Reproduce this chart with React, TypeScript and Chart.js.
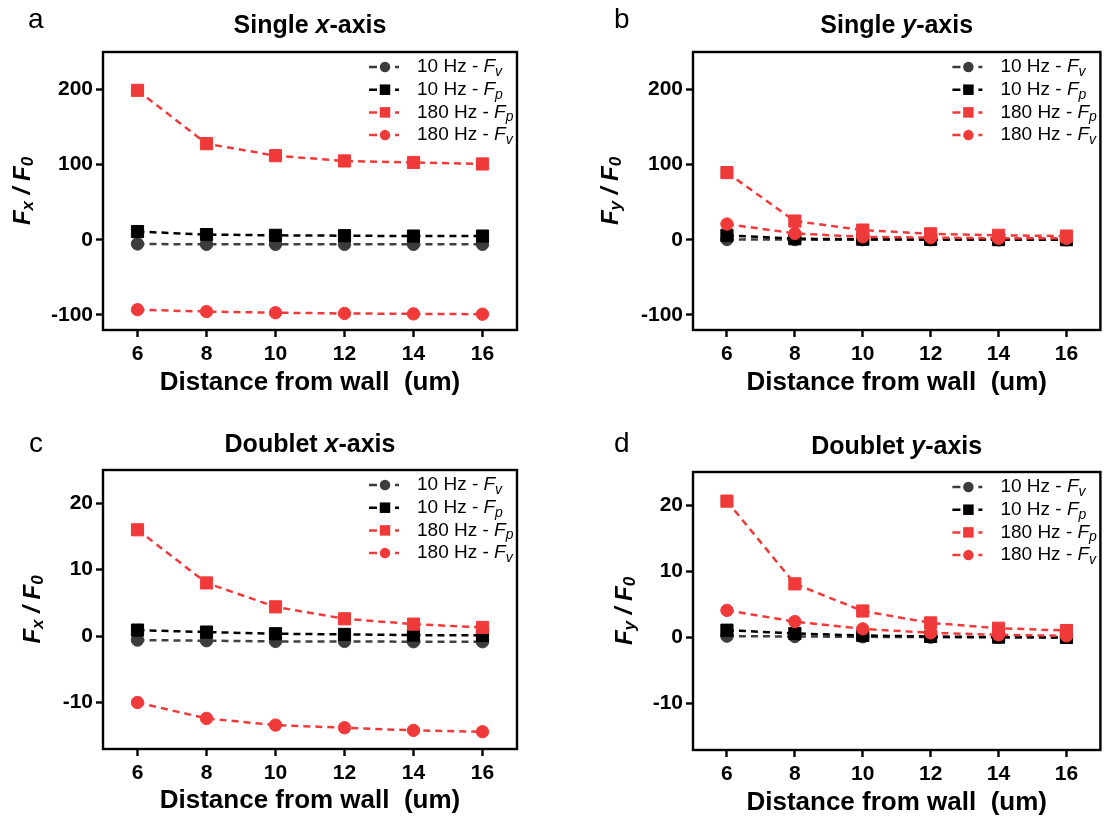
import React, { useEffect, useRef } from 'react';
import { Chart, registerables } from 'chart.js';

Chart.register(...registerables);

// ---------------- data ----------------
const distances = [6, 8, 10, 12, 14, 16];
const xTickValues = [6, 8, 10, 12, 14, 16];
const singleTickValues = [-100, 0, 100, 200];
const doubletTickValues = [-10, 0, 10, 20];

const seriesPrefixes = ['10 Hz - ', '10 Hz - ', '180 Hz - ', '180 Hz - '];
const seriesSubscripts = ['v', 'p', 'p', 'v'];

// Single x-axis
const singleX_10Hz_Fv = [-5.5, -6, -6, -6, -6, -6];
const singleX_10Hz_Fp = [11, 7, 6, 5.5, 5, 5];
const singleX_180Hz_Fp = [199, 128, 112, 105, 103, 101];
const singleX_180Hz_Fv = [-93, -95.5, -97, -98, -98.5, -99];

// Single y-axis
const singleY_10Hz_Fv = [0.5, 0.3, 0.2, 0.1, 0.1, 0];
const singleY_10Hz_Fp = [6, 1.5, 0.8, 0.5, 0.3, 0.2];
const singleY_180Hz_Fp = [89.5, 25, 13, 8, 6, 5];
const singleY_180Hz_Fv = [21, 8.5, 4, 3, 2, 2];

// Doublet x-axis
const doubletX_10Hz_Fv = [-0.6, -0.7, -0.8, -0.8, -0.85, -0.85];
const doubletX_10Hz_Fp = [0.9, 0.6, 0.35, 0.25, 0.15, 0.1];
const doubletX_180Hz_Fp = [16.0, 8.0, 4.4, 2.6, 1.8, 1.3];
const doubletX_180Hz_Fv = [-10.0, -12.4, -13.4, -13.8, -14.2, -14.4];

// Doublet y-axis
const doubletY_10Hz_Fv = [0.2, 0.15, 0.1, 0.05, 0.05, 0];
const doubletY_10Hz_Fp = [1.1, 0.6, 0.3, 0.15, 0.05, 0];
const doubletY_180Hz_Fp = [20.6, 8.1, 4.0, 2.2, 1.4, 1.05];
const doubletY_180Hz_Fv = [4.1, 2.4, 1.3, 0.7, 0.4, 0.25];

// ---------------- styles ----------------
const FONT = "'Liberation Sans', Arial, Helvetica, sans-serif";
const RED = '#F03A3A';
const DARK = '#3c3c3c';
const BLACK = '#000000';
const seriesColors = [DARK, BLACK, RED, RED];
const seriesShapes = ['circle', 'rect', 'rect', 'circle'];
const seriesOrder = [4, 3, 2, 1];

const CANVAS_W = 555;
const CANVAS_H = 410;

type Seg = { text: string; font: string; dy?: number };

function drawRich(ctx: CanvasRenderingContext2D, segs: Seg[], x: number, y: number, align: 'left' | 'center') {
  let total = 0;
  const widths: number[] = [];
  for (const s of segs) {
    ctx.font = s.font;
    const w = ctx.measureText(s.text).width;
    widths.push(w);
    total += w;
  }
  let cx = align === 'center' ? x - total / 2 : x;
  ctx.textAlign = 'left';
  segs.forEach((s, i) => {
    ctx.font = s.font;
    ctx.fillText(s.text, cx, y + (s.dy || 0));
    cx += widths[i];
  });
}

function drawMarker(ctx: CanvasRenderingContext2D, shape: string, x: number, y: number, size: number, color: string) {
  ctx.fillStyle = color;
  if (shape === 'circle') {
    ctx.beginPath();
    ctx.arc(x, y, size / 2, 0, Math.PI * 2);
    ctx.fill();
  } else {
    ctx.fillRect(x - size / 2, y - size / 2, size, size);
  }
}

const decorPlugin = {
  id: 'decor',
  afterDraw(chart: any, _args: any, opts: any) {
    const ctx: CanvasRenderingContext2D = chart.ctx;
    const ca = chart.chartArea;
    ctx.save();
    // frame
    ctx.setLineDash([]);
    ctx.strokeStyle = '#000';
    ctx.lineWidth = 2.4;
    ctx.strokeRect(ca.left, ca.top, ca.right - ca.left, ca.bottom - ca.top);

    ctx.fillStyle = '#000';
    ctx.textBaseline = 'alphabetic';
    // panel letter
    ctx.font = `28px ${FONT}`;
    ctx.textAlign = 'left';
    ctx.fillText(opts.letter, opts.letterX, opts.letterY);

    const cx = (ca.left + ca.right) / 2;
    // title
    drawRich(
      ctx,
      [
        { text: opts.titleA, font: `bold 25px ${FONT}` },
        { text: opts.titleAxis, font: `italic bold 25px ${FONT}` },
        { text: '-axis', font: `bold 25px ${FONT}` },
      ],
      cx,
      opts.titleY,
      'center'
    );

    // x axis title
    ctx.fillStyle = '#000';
    drawRich(ctx, [{ text: 'Distance from wall  (um)', font: `bold 26px ${FONT}` }], cx, opts.xTitleY, 'center');

    // y axis title (rotated)
    ctx.save();
    ctx.translate(opts.yTitleX, (ca.top + ca.bottom) / 2);
    ctx.rotate(-Math.PI / 2);
    ctx.textBaseline = 'middle';
    drawRich(
      ctx,
      [
        { text: 'F', font: `italic bold 24px ${FONT}` },
        { text: opts.titleAxis, font: `italic bold 17px ${FONT}`, dy: 5 },
        { text: ' / ', font: `italic bold 24px ${FONT}` },
        { text: 'F', font: `italic bold 24px ${FONT}` },
        { text: '0', font: `italic bold 17px ${FONT}`, dy: 5 },
      ],
      0,
      0,
      'center'
    );
    ctx.restore();

    // legend
    const mx = ca.right - 132;
    for (let i = 0; i < 4; i++) {
      const y = ca.top + 15 + i * 22.7;
      const color = seriesColors[i];
      ctx.strokeStyle = color;
      ctx.lineWidth = 2.5;
      ctx.setLineDash([]);
      ctx.beginPath();
      ctx.moveTo(mx - 16, y);
      ctx.lineTo(mx - 8, y);
      ctx.moveTo(mx + 10, y);
      ctx.lineTo(mx + 14, y);
      ctx.stroke();
      drawMarker(ctx, seriesShapes[i], mx, y, 10.5, color);
      ctx.fillStyle = '#000';
      ctx.textBaseline = 'middle';
      drawRich(
        ctx,
        [
          { text: seriesPrefixes[i], font: `19px ${FONT}` },
          { text: 'F', font: `italic 19px ${FONT}` },
          { text: seriesSubscripts[i], font: `italic 14px ${FONT}`, dy: 5 },
        ],
        mx + 32,
        y,
        'left'
      );
    }
    ctx.restore();
  },
};

type PanelDef = {
  letter: string;
  titleA: string;
  titleAxis: string;
  series: number[][];
  yTicks: number[];
  yMin: number;
  yMax: number;
  left: number;
  top: number;
  area: { left: number; top: number; right: number; bottom: number };
  letterX: number;
  letterY: number;
  titleY: number;
  xTitleY: number;
  yTitleX: number;
};

const panels: PanelDef[] = [
  {
    letter: 'a', titleA: 'Single ', titleAxis: 'x',
    series: [singleX_10Hz_Fv, singleX_10Hz_Fp, singleX_180Hz_Fp, singleX_180Hz_Fv],
    yTicks: singleTickValues, yMin: -120, yMax: 250,
    left: 0, top: 0,
    area: { left: 103, top: 52, right: 517, bottom: 330 },
    letterX: 28, letterY: 28, titleY: 33, xTitleY: 390, yTitleX: 23,
  },
  {
    letter: 'b', titleA: 'Single ', titleAxis: 'y',
    series: [singleY_10Hz_Fv, singleY_10Hz_Fp, singleY_180Hz_Fp, singleY_180Hz_Fv],
    yTicks: singleTickValues, yMin: -120, yMax: 250,
    left: 555, top: 0,
    area: { left: 138, top: 52, right: 551, bottom: 330 },
    letterX: 59, letterY: 28, titleY: 33, xTitleY: 390, yTitleX: 56,
  },
  {
    letter: 'c', titleA: 'Doublet ', titleAxis: 'x',
    series: [doubletX_10Hz_Fv, doubletX_10Hz_Fp, doubletX_180Hz_Fp, doubletX_180Hz_Fv],
    yTicks: doubletTickValues, yMin: -17, yMax: 25,
    left: 0, top: 410,
    area: { left: 103, top: 60, right: 517, bottom: 339 },
    letterX: 29, letterY: 42, titleY: 42, xTitleY: 398, yTitleX: 33,
  },
  {
    letter: 'd', titleA: 'Doublet ', titleAxis: 'y',
    series: [doubletY_10Hz_Fv, doubletY_10Hz_Fp, doubletY_180Hz_Fp, doubletY_180Hz_Fv],
    yTicks: doubletTickValues, yMin: -17, yMax: 25,
    left: 555, top: 410,
    area: { left: 138, top: 62, right: 551, bottom: 340 },
    letterX: 59, letterY: 42, titleY: 44, xTitleY: 400, yTitleX: 70,
  },
];

function Panel({ def }: { def: PanelDef }) {
  const ref = useRef<HTMLCanvasElement | null>(null);
  useEffect(() => {
    if (!ref.current) return;
    const a = def.area;
    const datasets = def.series.map((vals, i) => ({
      label: seriesPrefixes[i] + 'F' + seriesSubscripts[i],
      data: distances.map((d, j) => ({ x: d, y: vals[j] })),
      borderColor: seriesColors[i] === DARK ? '#404040' : seriesColors[i],
      backgroundColor: seriesColors[i],
      pointBackgroundColor: seriesColors[i],
      pointBorderColor: seriesColors[i],
      pointBorderWidth: 1,
      pointStyle: seriesShapes[i],
      pointRadius: seriesShapes[i] === 'rect' ? 8.6 : 6.2,
      borderWidth: 2.5,
      borderDash: [7, 5],
      tension: 0,
      fill: false,
      order: seriesOrder[i],
    }));
    const chart = new Chart(ref.current, {
      type: 'line',
      data: { datasets },
      plugins: [decorPlugin],
      options: {
        responsive: false,
        animation: false,
        devicePixelRatio: 1,
        layout: {
          padding: { left: 0, top: a.top, right: CANVAS_W - a.right, bottom: 0 },
        },
        plugins: {
          legend: { display: false },
          tooltip: { enabled: false },
          title: { display: false },
          decor: {
            letter: def.letter,
            titleA: def.titleA,
            titleAxis: def.titleAxis,
            letterX: def.letterX,
            letterY: def.letterY,
            titleY: def.titleY,
            xTitleY: def.xTitleY,
            yTitleX: def.yTitleX,
          },
        } as any,
        scales: {
          x: {
            type: 'linear',
            min: 5,
            max: 17,
            border: { display: false },
            grid: {
              display: true,
              drawOnChartArea: false,
              drawTicks: true,
              tickLength: 7,
              tickWidth: 2.4,
              tickColor: '#000',
            },
            ticks: {
              color: '#000',
              padding: 5,
              font: { family: FONT, size: 21, weight: 'bold' },
              callback: (v: any) => String(v),
              maxRotation: 0,
            },
            afterBuildTicks: (axis: any) => {
              axis.ticks = xTickValues.map((v) => ({ value: v }));
            },
            afterFit: (axis: any) => {
              axis.height = CANVAS_H - a.bottom;
            },
          },
          y: {
            type: 'linear',
            min: def.yMin,
            max: def.yMax,
            border: { display: false },
            grid: {
              display: true,
              drawOnChartArea: false,
              drawTicks: true,
              tickLength: 7,
              tickWidth: 2.4,
              tickColor: '#000',
            },
            ticks: {
              color: '#000',
              padding: 3,
              font: { family: FONT, size: 21, weight: 'bold' },
              callback: (v: any) => String(v),
            },
            afterBuildTicks: (axis: any) => {
              axis.ticks = def.yTicks.map((v) => ({ value: v }));
            },
            afterFit: (axis: any) => {
              axis.width = a.left;
            },
          },
        },
      } as any,
    });
    return () => chart.destroy();
  }, [def]);
  return (
    <canvas
      ref={ref}
      width={CANVAS_W}
      height={CANVAS_H}
      style={{ position: 'absolute', left: def.left, top: def.top, width: CANVAS_W, height: CANVAS_H }}
    />
  );
}

export default function App() {
  return (
    <div style={{ position: 'absolute', left: 0, top: 0, width: 1111, height: 820, background: '#fff' }}>
      {panels.map((p) => (
        <Panel key={p.letter} def={p} />
      ))}
    </div>
  );
}
